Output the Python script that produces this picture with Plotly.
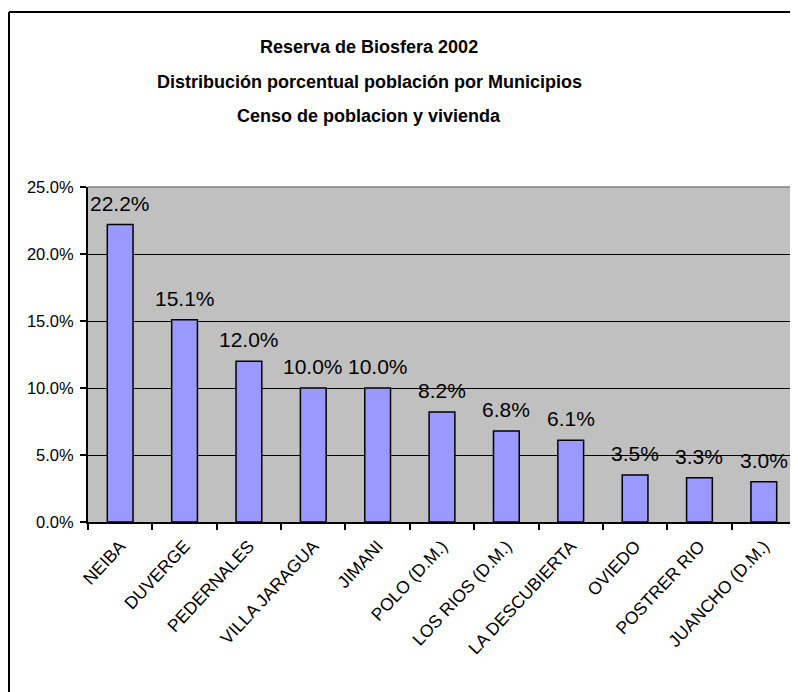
import plotly.graph_objects as go

municipios = ["NEIBA", "DUVERGE", "PEDERNALES", "VILLA JARAGUA", "JIMANI",
              "POLO (D.M.)", "LOS RIOS (D.M.)", "LA DESCUBIERTA", "OVIEDO",
              "POSTRER RIO", "JUANCHO (D.M.)"]
porcentaje = [0.222, 0.151, 0.120, 0.100, 0.100, 0.082, 0.068, 0.061, 0.035, 0.033, 0.030]
titulo = ["Reserva de Biosfera 2002",
          "Distribución porcentual población por Municipios",
          "Censo de poblacion y vivienda"]

# page body has an 8px margin, so figure coords = screen coords - 8
OFF = 8
W, H = 798 - OFF, 692 - OFF
L, R, T, B = 88 - OFF, 796 - OFF, 187 - OFF, 522 - OFF  # plot area in px


def px_x(x):
    return (x - OFF - L) / (R - L)


def px_y(y):
    return (B - (y - OFF)) / (B - T)


fig = go.Figure(go.Bar(
    x=municipios, y=porcentaje, width=0.4,
    marker=dict(color="#9999FF", line=dict(color="black", width=1.5)),
))

# data labels
for m, v in zip(municipios, porcentaje):
    fig.add_annotation(x=m, y=v, text=f"{v*100:.1f}%", showarrow=False,
                       yanchor="bottom", yshift=8,
                       font=dict(size=21, color="black"))

# title lines
for t, yc in zip(titulo, [47, 82, 116]):
    fig.add_annotation(xref="paper", yref="paper", x=px_x(369), y=px_y(yc),
                       text=f"<b>{t}</b>", showarrow=False, yanchor="middle",
                       font=dict(size=18, color="black"))

# plot area border (top/right) and outer chart frame
fig.add_shape(type="line", xref="paper", yref="paper", x0=0, x1=1, y0=1, y1=1,
              line=dict(color="#808080", width=1.5))
fig.add_shape(type="line", xref="paper", yref="paper", x0=1, x1=1, y0=0, y1=1,
              line=dict(color="#808080", width=1.5))
fig.add_shape(type="line", xref="paper", yref="paper", x0=px_x(9), x1=px_x(9),
              y0=px_y(12), y1=px_y(700), line=dict(color="black", width=2))
fig.add_shape(type="line", xref="paper", yref="paper", x0=px_x(9), x1=px_x(810),
              y0=px_y(12), y1=px_y(12), line=dict(color="black", width=2))

fig.update_layout(
    width=W, height=H,
    margin=dict(l=L, r=W - R, t=T, b=H - B, pad=0),
    paper_bgcolor="white", plot_bgcolor="#C0C0C0",
    font=dict(family="Liberation Sans, Arial, sans-serif", color="black"),
    showlegend=False, bargap=0.6,
)
fig.update_xaxes(tickangle=-47, tickson="boundaries", ticks="outside", ticklen=6,
                 tickcolor="black", tickwidth=1.5, showline=True, linecolor="black",
                 linewidth=2, showgrid=False, tickfont=dict(size=17.5),
                 ticklabelstandoff=5)
fig.update_yaxes(range=[0, 0.25], dtick=0.05, tickformat=".1%", ticks="outside",
                 ticklen=6, tickcolor="black", tickwidth=1.5, showline=True,
                 linecolor="black", linewidth=2, showgrid=True, gridcolor="black",
                 gridwidth=1, zeroline=False, tickfont=dict(size=16.5),
                 ticklabelstandoff=3)

fig.write_html("out.html")
